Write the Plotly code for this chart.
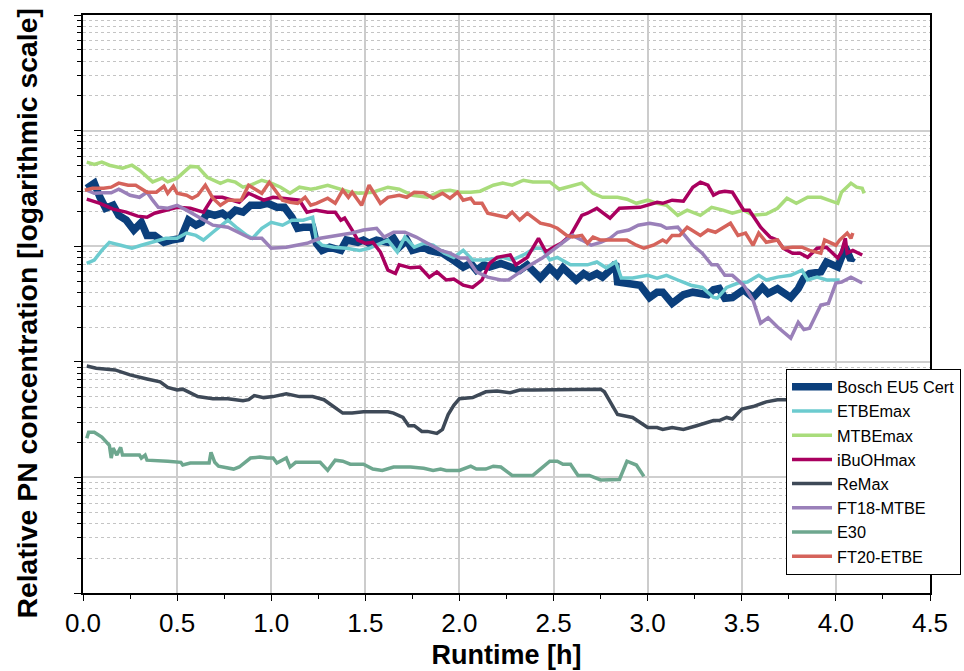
import plotly.graph_objects as go

# ---------------- data (runtime in hours, relative PN concentration) ----------------
bosch_h = [0.02, 0.06, 0.09, 0.12, 0.16, 0.19, 0.23, 0.27, 0.31, 0.34, 0.38, 0.43, 0.47, 0.52, 0.56, 0.60,
           0.63, 0.66, 0.70, 0.74, 0.77, 0.81, 0.85, 0.89, 0.94, 0.98, 1.03, 1.07, 1.11, 1.14, 1.17, 1.22,
           1.24, 1.27, 1.31, 1.37, 1.40, 1.46, 1.49, 1.52, 1.56, 1.62, 1.65, 1.68, 1.72, 1.75, 1.81, 1.84,
           1.88, 1.91, 1.95, 1.99, 2.02, 2.06, 2.09, 2.13, 2.16, 2.22, 2.27, 2.32, 2.36, 2.39, 2.43, 2.48,
           2.52, 2.55, 2.59, 2.62, 2.66, 2.69, 2.73, 2.76, 2.80, 2.83, 2.84, 2.89, 2.96, 3.01, 3.05, 3.08,
           3.13, 3.19, 3.24, 3.32, 3.35, 3.38, 3.41, 3.45, 3.51, 3.56, 3.61, 3.64, 3.69, 3.76, 3.80, 3.83,
           3.86, 3.92, 3.95, 4.01, 4.03, 4.05, 4.08, 4.09]
bosch_v = [3.17, 3.51, 2.65, 2.13, 2.26, 1.85, 1.68, 1.38, 1.61, 1.24, 1.24, 1.08, 1.13, 1.17, 1.68, 1.52,
           1.61, 1.93, 1.85, 1.93, 1.78, 2.05, 1.97, 2.26, 2.26, 2.35, 2.17, 2.17, 1.78, 1.43, 1.46, 1.46,
           1.06, 0.92, 0.98, 0.92, 1.13, 1.08, 1.13, 1.06, 1.13, 1.08, 1.17, 0.98, 1.13, 0.92, 0.98, 0.92,
           0.89, 0.87, 0.79, 0.71, 0.66, 0.71, 0.62, 0.69, 0.66, 0.71, 0.66, 0.62, 0.69, 0.62, 0.53, 0.65,
           0.56, 0.65, 0.56, 0.51, 0.58, 0.54, 0.58, 0.54, 0.62, 0.71, 0.49, 0.48, 0.46, 0.36, 0.40, 0.40,
           0.32, 0.38, 0.40, 0.38, 0.42, 0.43, 0.355, 0.36, 0.42, 0.36, 0.44, 0.39, 0.43, 0.36, 0.43, 0.53,
           0.58, 0.60, 0.73, 0.66, 0.80, 0.98, 0.76, 0.80]

etbe_h = [0.02, 0.06, 0.10, 0.14, 0.20, 0.26, 0.31, 0.37, 0.44, 0.50, 0.55, 0.60, 0.64, 0.69, 0.77, 0.82,
          0.87, 0.90, 0.95, 1.00, 1.06, 1.11, 1.17, 1.22, 1.24, 1.27, 1.33, 1.40, 1.47, 1.52, 1.58, 1.62,
          1.67, 1.71, 1.76, 1.81, 1.86, 1.92, 1.97, 2.02, 2.07, 2.13, 2.18, 2.23, 2.28, 2.34, 2.40, 2.44,
          2.48, 2.52, 2.59, 2.68, 2.73, 2.78, 2.83, 2.86, 2.92, 3.00, 3.05, 3.10, 3.16, 3.23, 3.29, 3.35,
          3.37, 3.42, 3.48, 3.53, 3.59, 3.63, 3.69, 3.76, 3.82, 3.85, 3.90, 3.95, 4.02]
etbe_v = [0.71, 0.76, 0.92, 1.08, 1.02, 0.96, 1.02, 1.08, 1.17, 1.17, 1.30, 1.24, 1.13, 1.32, 1.68, 1.43,
          1.24, 1.17, 1.43, 1.61, 1.52, 1.68, 1.68, 1.78, 1.13, 1.02, 0.98, 0.96, 0.92, 0.96, 1.06, 1.13,
          0.89, 1.20, 0.98, 1.06, 1.02, 0.87, 0.80, 0.92, 0.76, 0.76, 0.78, 0.80, 0.76, 0.84, 0.96, 0.96,
          0.76, 0.80, 0.69, 0.69, 0.73, 0.65, 0.73, 0.53, 0.53, 0.56, 0.53, 0.56, 0.51, 0.46, 0.44, 0.36,
          0.355, 0.44, 0.48, 0.49, 0.56, 0.51, 0.54, 0.56, 0.62, 0.51, 0.54, 0.51, 0.51]

mtbe_h = [0.02, 0.06, 0.10, 0.14, 0.21, 0.26, 0.30, 0.37, 0.42, 0.45, 0.50, 0.57, 0.61, 0.66, 0.73, 0.77,
          0.81, 0.85, 0.89, 0.95, 1.00, 1.05, 1.10, 1.15, 1.21, 1.24, 1.30, 1.35, 1.42, 1.47, 1.54, 1.62,
          1.68, 1.75, 1.83, 1.90, 1.95, 2.00, 2.06, 2.11, 2.18, 2.23, 2.28, 2.34, 2.39, 2.48, 2.53, 2.59,
          2.65, 2.71, 2.76, 2.84, 2.89, 2.94, 3.00, 3.05, 3.10, 3.16, 3.21, 3.28, 3.34, 3.40, 3.45, 3.51,
          3.56, 3.63, 3.69, 3.74, 3.79, 3.85, 3.92, 4.01, 4.03, 4.08, 4.11, 4.14, 4.15]
mtbe_v = [5.33, 5.10, 5.33, 5.02, 4.73, 5.02, 4.54, 3.60, 3.88, 3.60, 3.88, 4.90, 4.85, 3.95, 3.50, 3.72,
          3.58, 3.24, 3.37, 3.72, 3.51, 3.24, 2.87, 3.24, 3.11, 3.17, 3.37, 3.17, 2.93, 2.87, 2.93, 3.24,
          3.11, 2.76, 2.65, 2.99, 3.05, 2.93, 2.93, 2.99, 3.37, 3.51, 3.37, 3.72, 3.60, 3.60, 3.11, 3.30,
          3.51, 2.87, 2.65, 2.65, 2.55, 2.35, 2.50, 2.35, 2.26, 1.85, 2.05, 1.85, 2.17, 2.05, 1.93, 2.05,
          1.85, 1.90, 2.13, 2.60, 2.35, 2.65, 2.65, 2.35, 2.93, 3.51, 3.24, 3.17, 2.87]

ibuoh_h = [0.02, 0.09, 0.16, 0.23, 0.29, 0.34, 0.38, 0.45, 0.50, 0.57, 0.64, 0.69, 0.74, 0.83, 0.88, 0.96,
           1.01, 1.06, 1.12, 1.15, 1.19, 1.24, 1.30, 1.34, 1.37, 1.39, 1.43, 1.46, 1.50, 1.54, 1.58, 1.62,
           1.66, 1.68, 1.74, 1.79, 1.84, 1.88, 1.93, 1.97, 2.02, 2.07, 2.12, 2.16, 2.20, 2.27, 2.30, 2.36,
           2.42, 2.46, 2.50, 2.54, 2.59, 2.65, 2.68, 2.73, 2.80, 2.85, 2.96, 3.05, 3.08, 3.13, 3.19, 3.24,
           3.28, 3.32, 3.35, 3.38, 3.41, 3.45, 3.51, 3.54, 3.60, 3.65, 3.69, 3.72, 3.77, 3.81, 3.85, 3.90,
           3.95, 4.01, 4.03, 4.05, 4.06, 4.09, 4.14]
ibuoh_v = [2.55, 2.35, 2.09, 1.97, 1.82, 1.78, 1.93, 2.05, 2.17, 2.13, 1.97, 2.65, 2.65, 2.40, 2.87, 2.50,
           2.65, 2.60, 2.55, 2.50, 1.97, 2.05, 1.97, 1.97, 1.68, 1.75, 1.38, 1.13, 1.06, 1.08, 0.89, 0.62,
           0.58, 0.69, 0.65, 0.66, 0.54, 0.60, 0.51, 0.52, 0.46, 0.44, 0.51, 0.71, 0.80, 0.84, 0.69, 0.80,
           1.17, 0.89, 0.98, 1.06, 1.24, 1.85, 1.93, 2.13, 1.75, 2.13, 2.17, 2.40, 2.35, 2.50, 2.45, 3.24,
           3.58, 3.37, 2.76, 2.93, 2.99, 2.93, 2.05, 2.05, 1.46, 1.20, 1.13, 0.96, 0.87, 0.87, 0.80, 0.96,
           0.98, 0.79, 0.89, 1.17, 0.87, 0.92, 0.84]

remax_h = [0.02, 0.07, 0.17, 0.25, 0.34, 0.41, 0.45, 0.50, 0.53, 0.61, 0.69, 0.77, 0.85, 0.88, 0.91, 0.96,
           1.01, 1.08, 1.15, 1.22, 1.28, 1.33, 1.38, 1.43, 1.49, 1.54, 1.62, 1.65, 1.70, 1.73, 1.76, 1.80,
           1.83, 1.88, 1.91, 1.94, 1.97, 2.00, 2.07, 2.14, 2.20, 2.27, 2.32, 2.39, 2.57, 2.62, 2.75, 2.77,
           2.84, 2.92, 3.00, 3.05, 3.08, 3.13, 3.19, 3.26, 3.35, 3.38, 3.42, 3.45, 3.50, 3.56, 3.63, 3.69,
           3.74, 3.80]
remax_v = [0.092, 0.088, 0.085, 0.077, 0.071, 0.067, 0.060, 0.057, 0.058, 0.050, 0.048, 0.048, 0.046, 0.047,
           0.051, 0.049, 0.050, 0.053, 0.050, 0.050, 0.047, 0.041, 0.036, 0.036, 0.037, 0.037, 0.037, 0.036,
           0.033, 0.028, 0.028, 0.025, 0.025, 0.024, 0.026, 0.035, 0.042, 0.048, 0.049, 0.055, 0.056, 0.054,
           0.057, 0.057, 0.057, 0.058, 0.058, 0.055, 0.035, 0.033, 0.027, 0.027, 0.026, 0.027, 0.026, 0.028,
           0.031, 0.031, 0.033, 0.032, 0.039, 0.041, 0.045, 0.047, 0.047, 0.046]

ft18_h = [0.02, 0.06, 0.11, 0.15, 0.19, 0.25, 0.30, 0.34, 0.37, 0.40, 0.45, 0.50, 0.55, 0.62, 0.69, 0.77,
          0.83, 0.89, 0.95, 1.00, 1.08, 1.15, 1.19, 1.26, 1.35, 1.43, 1.49, 1.56, 1.60, 1.65, 1.71, 1.77,
          1.83, 1.90, 1.95, 2.00, 2.04, 2.09, 2.15, 2.22, 2.26, 2.32, 2.39, 2.44, 2.52, 2.60, 2.65, 2.70,
          2.75, 2.80, 2.84, 2.90, 2.95, 3.01, 3.07, 3.10, 3.16, 3.21, 3.24, 3.29, 3.34, 3.37, 3.41, 3.45,
          3.51, 3.56, 3.60, 3.64, 3.69, 3.76, 3.80, 3.83, 3.86, 3.92, 3.96, 4.00, 4.03, 4.08, 4.14]
ft18_v = [3.05, 2.87, 2.90, 2.90, 3.11, 2.76, 2.65, 2.93, 2.50, 2.17, 2.13, 2.26, 2.05, 1.75, 1.52, 1.46,
          1.30, 1.17, 1.17, 0.96, 0.98, 1.02, 1.06, 1.17, 1.24, 1.30, 1.38, 1.43, 1.20, 1.32, 1.32, 1.20,
          1.06, 0.92, 0.87, 0.79, 0.79, 0.60, 0.54, 0.51, 0.51, 0.60, 0.71, 0.79, 0.98, 1.24, 1.13, 1.02,
          1.08, 1.17, 1.32, 1.38, 1.52, 1.58, 1.52, 1.43, 1.46, 1.17, 1.02, 0.87, 0.69, 0.69, 0.56, 0.56,
          0.46, 0.34, 0.216, 0.24, 0.20, 0.16, 0.22, 0.19, 0.195, 0.31, 0.32, 0.48, 0.49, 0.54, 0.48]

e30_h = [0.02, 0.03, 0.06, 0.10, 0.14, 0.15, 0.16, 0.18, 0.20, 0.21, 0.30, 0.31, 0.33, 0.34, 0.45, 0.52,
         0.53, 0.57, 0.67, 0.68, 0.70, 0.72, 0.80, 0.83, 0.89, 0.94, 0.98, 1.01, 1.03, 1.08, 1.10, 1.13,
         1.17, 1.26, 1.30, 1.34, 1.38, 1.42, 1.49, 1.54, 1.59, 1.65, 1.74, 1.81, 1.86, 1.90, 1.93, 2.00,
         2.06, 2.09, 2.14, 2.18, 2.22, 2.26, 2.28, 2.39, 2.48, 2.52, 2.55, 2.59, 2.63, 2.69, 2.75, 2.85,
         2.89, 2.94, 2.98]
e30_v = [0.0218, 0.0246, 0.0246, 0.0223, 0.0190, 0.0147, 0.0179, 0.0156, 0.0182, 0.0156, 0.0156, 0.0147,
         0.0156, 0.0141, 0.0138, 0.0135, 0.0128, 0.0133, 0.0133, 0.0165, 0.0135, 0.0125, 0.0118, 0.0123,
         0.0147, 0.0150, 0.0147, 0.0147, 0.0133, 0.0147, 0.0123, 0.0135, 0.0135, 0.0135, 0.0115, 0.0141,
         0.0138, 0.0130, 0.0130, 0.0118, 0.0115, 0.0123, 0.0123, 0.0120, 0.0115, 0.0118, 0.0115, 0.0115,
         0.0125, 0.0118, 0.0118, 0.0125, 0.0123, 0.0111, 0.0104, 0.0104, 0.0138, 0.0138, 0.0130, 0.0130,
         0.0104, 0.0104, 0.0095, 0.0096, 0.0138, 0.0128, 0.0102]

ft20_h = [0.01, 0.05, 0.11, 0.15, 0.19, 0.24, 0.28, 0.31, 0.34, 0.39, 0.43, 0.45, 0.48, 0.50, 0.55, 0.58,
          0.61, 0.65, 0.69, 0.73, 0.77, 0.81, 0.84, 0.88, 0.91, 0.95, 0.99, 1.03, 1.06, 1.10, 1.14, 1.18,
          1.21, 1.24, 1.30, 1.34, 1.38, 1.41, 1.43, 1.48, 1.52, 1.58, 1.62, 1.68, 1.72, 1.76, 1.81, 1.86,
          1.91, 1.95, 1.99, 2.02, 2.06, 2.08, 2.12, 2.15, 2.20, 2.25, 2.28, 2.32, 2.36, 2.39, 2.43, 2.48,
          2.52, 2.57, 2.60, 2.65, 2.68, 2.71, 2.75, 2.80, 2.89, 2.94, 2.98, 3.03, 3.08, 3.10, 3.13, 3.17,
          3.21, 3.28, 3.32, 3.36, 3.38, 3.40, 3.44, 3.48, 3.52, 3.56, 3.59, 3.63, 3.69, 3.72, 3.77, 3.82,
          3.86, 3.92, 3.94, 4.00, 4.02, 4.06, 4.08, 4.09]
ft20_v = [3.05, 3.17, 3.17, 3.24, 3.51, 3.37, 3.37, 3.17, 2.93, 2.93, 3.30, 2.87, 3.30, 2.87, 2.76, 2.60,
          2.76, 3.37, 2.60, 2.26, 2.50, 2.50, 2.50, 3.37, 3.17, 2.87, 3.58, 2.87, 2.50, 2.40, 2.35, 2.65,
          2.26, 2.35, 2.60, 2.35, 3.05, 2.65, 2.93, 2.26, 3.37, 2.35, 2.65, 2.76, 2.65, 2.93, 2.90, 2.60,
          2.87, 2.60, 2.93, 2.50, 2.60, 2.35, 2.35, 1.93, 1.85, 1.78, 1.97, 1.68, 1.93, 1.78, 1.58, 1.52,
          1.43, 1.24, 1.20, 1.24, 1.06, 1.20, 1.13, 1.13, 1.13, 1.02, 0.96, 1.02, 1.13, 1.08, 1.24, 1.24,
          1.46, 1.24, 1.38, 1.32, 1.38, 1.43, 1.58, 1.24, 1.30, 1.02, 1.30, 1.08, 1.13, 0.96, 0.98, 0.98,
          0.92, 0.87, 1.13, 1.02, 1.13, 1.30, 1.17, 1.30]

series_names = ["Bosch EU5 Cert", "ETBEmax", "MTBEmax", "iBuOHmax", "ReMax", "FT18-MTBE", "E30", "FT20-ETBE"]
series_x = [bosch_h, etbe_h, mtbe_h, ibuoh_h, remax_h, ft18_h, e30_h, ft20_h]
series_y = [bosch_v, etbe_v, mtbe_v, ibuoh_v, remax_v, ft18_v, e30_v, ft20_v]
colors = ["#0b3f7c", "#6ccbcf", "#a9dc7b", "#a9005f", "#3e4957", "#9a80b9", "#6ea78f", "#d5635b"]
widths = [7.5, 3.5, 3.5, 3.5, 3.5, 3.5, 3.5, 3.5]

FONT = "Arial, Liberation Sans, sans-serif"

fig = go.Figure()
for name, xs, ys, c, w in zip(series_names, series_x, series_y, colors, widths):
    fig.add_trace(go.Scatter(x=xs, y=ys, mode="lines", name=name,
                             line=dict(color=c, width=w, shape="linear")))

decades = [1e-3, 1e-2, 1e-1, 1, 10, 100]
minor_vals = [d * k for d in decades[:-1] for k in range(2, 10)]

fig.update_layout(
    width=964, height=671,
    margin=dict(l=83, r=34, t=15, b=78, autoexpand=False),
    paper_bgcolor="white", plot_bgcolor="white",
    font=dict(family=FONT, color="black"),
    showlegend=True,
    legend=dict(x=0.83, y=0.388, xanchor="left", yanchor="top",
                bgcolor="white", bordercolor="black", borderwidth=1,
                font=dict(size=16.3, family=FONT, color="black"),
                tracegroupgap=0, itemwidth=40),
    xaxis=dict(range=[0, 4.5], tickmode="linear", tick0=0, dtick=0.5, tickformat=".1f",
               showgrid=True, gridcolor="#cccccc", gridwidth=1.5,
               ticks="outside", ticklen=6, tickwidth=1.2, tickcolor="black",
               showline=True, linecolor="black", linewidth=1.5, mirror=True,
               tickfont=dict(size=26, family=FONT, color="black"),
               minor=dict(dtick=0.25, tick0=0, ticks="outside", ticklen=4, tickcolor="black", showgrid=False),
               zeroline=False,
               title=dict(text="<b>Runtime [h]</b>", font=dict(size=27, family=FONT, color="black"), standoff=8)),
    yaxis=dict(type="log", range=[-3, 2], tickmode="array", tickvals=decades,
               showticklabels=False,
               showgrid=True, gridcolor="#cfcfcf", gridwidth=1.5,
               ticks="outside", ticklen=7, tickwidth=1.2, tickcolor="black",
               showline=True, linecolor="black", linewidth=1.5, mirror=True,
               minor=dict(tickmode="array", tickvals=minor_vals, ticks="outside", ticklen=4,
                          tickcolor="black", showgrid=True, gridcolor="#c4c4c4", griddash="dot", gridwidth=1),
               zeroline=False),
    annotations=[dict(text="<b>Relative PN concentration [logarithmic scale]</b>",
                      xref="paper", yref="paper", x=-0.066, y=0.4836, xanchor="center", yanchor="middle",
                      textangle=-90, showarrow=False,
                      font=dict(size=28.4, family=FONT, color="black"))],
)

fig.write_html("out.html")
